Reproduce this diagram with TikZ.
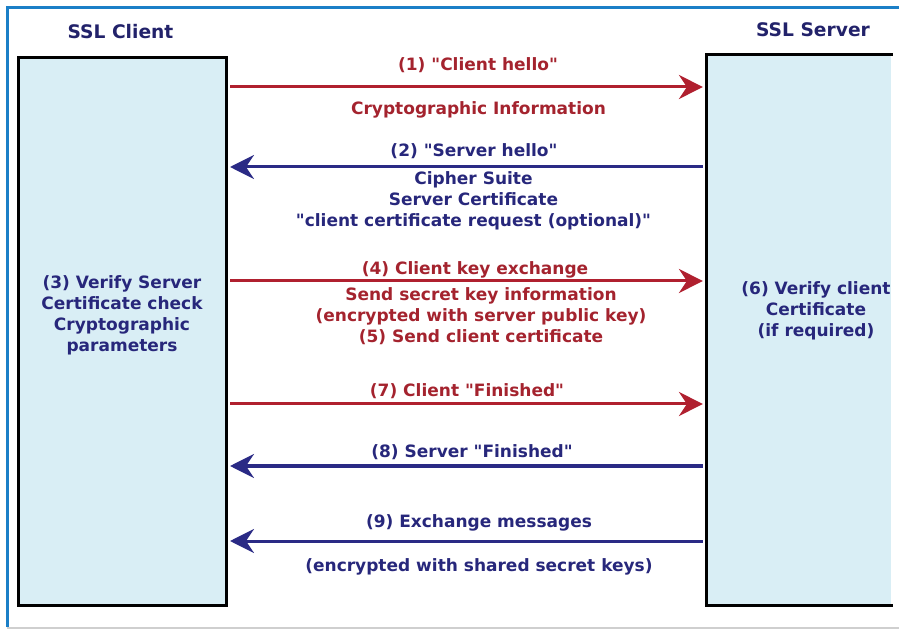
\documentclass[tikz,border=0pt]{standalone}
\usepackage{fontspec}
\setmainfont{DejaVu Sans}
\usetikzlibrary{arrows.meta,positioning,calc}
\newcommand{\qt}[1]{\textquotedbl#1\textquotedbl}
\definecolor{framecol}{HTML}{1B7FC7}
\definecolor{rulegray}{HTML}{CFCFCF}
\definecolor{boxfill}{HTML}{D9EEF5}
\definecolor{reqcol}{HTML}{A4232E}
\definecolor{reqline}{HTML}{B0202F}
\definecolor{respcol}{HTML}{27277B}
\definecolor{respline}{HTML}{2A2A85}
\definecolor{titlecol}{HTML}{22226A}
\tikzset{
  >={Stealth[length=18pt,width=18pt,inset=6pt]},
  party/.style={fill=boxfill, inner sep=0pt, line width=2.25pt},
  partytitle/.style={font=\bfseries\fontsize{14}{17}\selectfont, text=titlecol, inner sep=0pt},
  msg/.style={font=\bfseries\fontsize{12.75}{15.75}\selectfont, align=center, inner sep=0pt},
  reqmsg/.style={msg, text=reqcol},
  respmsg/.style={msg, text=respcol},
  reqarrow/.style={->, draw=reqline, line width=2.25pt},
  resparrow/.style={->, draw=respline, line width=2.25pt},
}

\begin{document}
\begin{tikzpicture}[x=0.75pt, y=-0.75pt, line cap=butt, line join=miter]
\useasboundingbox (0,0) rectangle (899,630);

% ---- frame ----
\draw[rulegray, line width=1.5pt] (7,628) -- (899,628);
\draw[framecol, line width=2.25pt] (7,627) -- (7,8) -- (899,8);

% ---- the two parties ----
\node[party, draw=black, minimum width=156pt, minimum height=411pt] (client) at (122.5,331.5) {};
\node[party, minimum width=137pt, minimum height=410.25pt] (server) at (799.75,330) {};
\draw[black, line width=2.25pt] (server.north east) -- (server.north west)
  -- (server.south west) -- (server.south east);

\node[partytitle, anchor=base] (clienttitle) at (120.5,39) {SSL Client};
\node[partytitle, anchor=base] (servertitle) at (813,37) {SSL Server};

% multi-line nodes: base is the last line
\node[respmsg, anchor=base] (verifysrv) at (122,352)
  {(3) Verify Server\\Certificate check\\Cryptographic\\parameters};
\node[respmsg, anchor=base] (verifycli) at (816,337)
  {(6) Verify client\\Certificate\\(if required)};

% ---- message rows ----
\coordinate (row1) at (0,87);
\coordinate (row2) at (0,167);
\coordinate (row4) at (0,281);
\coordinate (row7) at (0,404);
\coordinate (row8) at (0,466);
\coordinate (row9) at (0,541);

\draw[reqarrow, shorten <=1.5pt, shorten >=3pt] (client.east |- row1) -- (server.west |- row1);
\draw[resparrow, shorten <=3pt, shorten >=1.5pt] (server.west |- row2) -- (client.east |- row2);
\draw[reqarrow, shorten <=1.5pt, shorten >=3pt] (client.east |- row4) -- (server.west |- row4);
\draw[reqarrow, shorten <=1.5pt, shorten >=3pt] (client.east |- row7) -- (server.west |- row7);
\draw[resparrow, shorten <=3pt, shorten >=1.5pt] (server.west |- row8) -- (client.east |- row8);
\draw[resparrow, shorten <=3pt, shorten >=1.5pt] (server.west |- row9) -- (client.east |- row9);

% (1) and (2)
\node[reqmsg, anchor=base] (hello) at (478,71) {(1) \qt{Client hello}};
\node[reqmsg, anchor=base] (cryptinfo) at (478.5,115) {Cryptographic Information};
\node[respmsg, anchor=base] (srvhello) at (474,157) {(2) \qt{Server hello}};
\node[respmsg, anchor=base] (suite) at (473.5,227)
  {Cipher Suite\\Server Certificate\\\qt{client certificate request (optional)}};

% (4) and (5)
\node[reqmsg, anchor=base] (keyex) at (475,275) {(4) Client key exchange};
\node[reqmsg, anchor=base] (secret) at (481,343)
  {Send secret key information\\(encrypted with server public key)\\(5) Send client certificate};

% (7) to (9)
\node[reqmsg, anchor=base] (clifin) at (467,397) {(7) Client \qt{Finished}};
\node[respmsg, anchor=base] (srvfin) at (472,458) {(8) Server \qt{Finished}};
\node[respmsg, anchor=base] (exchange) at (479,527) {(9) Exchange messages};
\node[respmsg, anchor=base] (shared) at (479,571) {(encrypted with shared secret keys)};

\end{tikzpicture}
\end{document}
